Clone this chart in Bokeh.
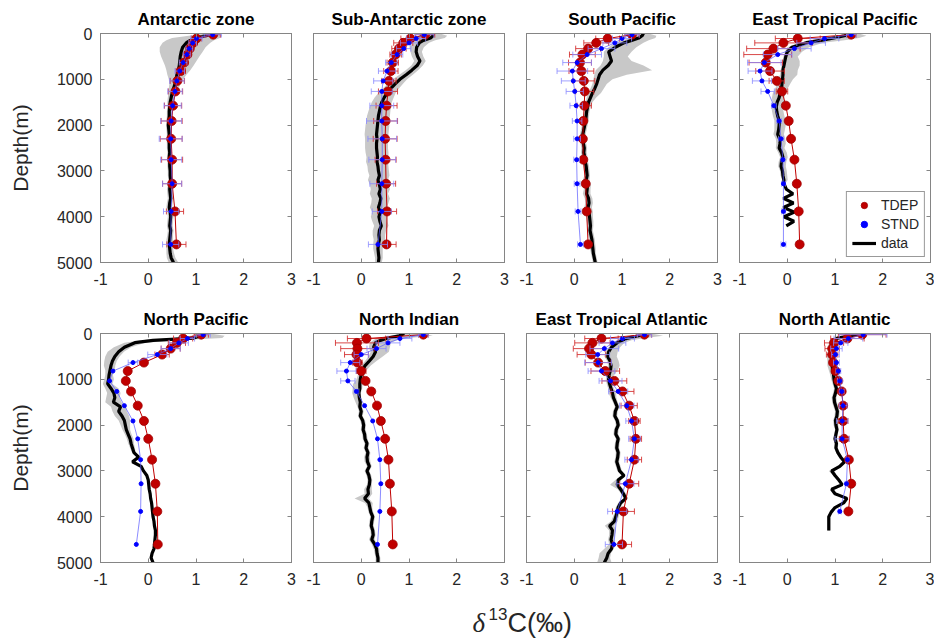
import math
from bokeh.plotting import figure
from bokeh.models import (Range1d, FixedTicker, LinearAxis, CustomJSTickFormatter,
                          Legend, LegendItem)
from bokeh.layouts import column, row
from bokeh.embed import file_html
from bokeh.resources import INLINE
from bokeh.core.properties import value

TITLES = ["Antarctic zone", "Sub-Antarctic zone", "South Pacific", "East Tropical Pacific",
          "North Pacific", "North Indian", "East Tropical Atlantic", "North Atlantic"]
X_TICKS = [-1, 0, 1, 2, 3]
Y_TICKS = [0, 1000, 2000, 3000, 4000, 5000]
SERIES = ["TDEP", "STND", "data"]

DEPTH_MODEL = [25, 110, 205, 330, 460, 635, 820, 1035, 1265, 1575, 1910, 2300, 2755, 3280, 3885, 4605]
DEPTH_DATA = [0, 50, 100, 150, 200,
              300, 400, 500, 600, 700, 800, 900, 1000,
              1100, 1200, 1300, 1400, 1500, 1600, 1700, 1800, 1900, 2000,
              2100, 2200, 2300, 2400, 2500, 2600, 2700, 2800, 2900, 3000,
              3100, 3200, 3300, 3400, 3500, 3600, 3700, 3800, 3900, 4000,
              4100, 4200, 4300, 4400, 4500, 4600, 4700, 4800, 4900, 5000]

# ---- Antarctic zone
ANT_TDEP = [1.36, 1.01, 0.94, 0.87, 0.82, 0.75, 0.68, 0.61, 0.57, 0.52, 0.49, 0.48, 0.50, 0.50, 0.56, 0.59]
ANT_TDEP_ERR = [0.15, 0.10, 0.08, 0.07, 0.07, 0.08, 0.10, 0.15, 0.15, 0.18, 0.22, 0.23, 0.22, 0.20, 0.18, 0.20]
ANT_STND = [1.35, 1.01, 0.93, 0.86, 0.81, 0.73, 0.66, 0.60, 0.56, 0.51, 0.48, 0.47, 0.48, 0.50, 0.48, 0.47]
ANT_STND_ERR = [0.18, 0.12, 0.08, 0.07, 0.07, 0.08, 0.10, 0.15, 0.15, 0.18, 0.22, 0.24, 0.22, 0.20, 0.16, 0.17]
ANT_DATA = [1.36, 1.20, 1.00, 0.88, 0.80,
            0.72, 0.69, 0.67, 0.66, 0.65, 0.63, 0.60, 0.58,
            0.56, 0.53, 0.50, 0.48, 0.46, 0.45, 0.44, 0.44, 0.43, 0.42,
            0.43, 0.44, 0.43, 0.44, 0.44, 0.45, 0.44, 0.45, 0.45, 0.46,
            0.46, 0.47, 0.46, 0.45, 0.46, 0.47, 0.45, 0.44, 0.46, 0.47,
            0.46, 0.45, 0.47, 0.46, 0.45, 0.44, 0.45, 0.46, 0.48, 0.53]
ANT_STD = [0.15, 0.35, 0.50, 0.50, 0.50,
           0.48, 0.45, 0.40, 0.35, 0.30, 0.25, 0.20, 0.15,
           0.12, 0.10, 0.08, 0.07, 0.06, 0.05, 0.05, 0.05, 0.05, 0.05,
           0.05, 0.05, 0.05, 0.05, 0.05, 0.05, 0.05, 0.05, 0.05, 0.05,
           0.05, 0.05, 0.05, 0.06, 0.06, 0.06, 0.06, 0.06, 0.06, 0.06,
           0.06, 0.06, 0.06, 0.06, 0.07, 0.07, 0.07, 0.08, 0.09, 0.10]
ANT_SKEW = None

# ---- Sub-Antarctic zone
SUB_TDEP = [1.34, 1.03, 0.88, 0.79, 0.72, 0.66, 0.62, 0.58, 0.56, 0.53, 0.51, 0.50, 0.51, 0.52, 0.54, 0.53]
SUB_TDEP_ERR = [0.20, 0.20, 0.20, 0.15, 0.12, 0.12, 0.15, 0.15, 0.20, 0.22, 0.25, 0.25, 0.22, 0.20, 0.20, 0.20]
SUB_STND = [1.32, 1.15, 1.00, 0.89, 0.75, 0.63, 0.54, 0.46, 0.43, 0.43, 0.43, 0.44, 0.44, 0.43, 0.43, 0.35]
SUB_STND_ERR = [0.20, 0.20, 0.18, 0.15, 0.12, 0.12, 0.18, 0.20, 0.22, 0.25, 0.32, 0.30, 0.28, 0.25, 0.20, 0.20]
SUB_DATA = [1.50, 1.50, 1.45, 1.30, 1.22,
            1.16, 1.15, 1.18, 1.23, 1.17, 1.06, 0.94, 0.81,
            0.71, 0.62, 0.54, 0.48, 0.43, 0.40, 0.38, 0.36, 0.35, 0.34,
            0.33, 0.32, 0.33, 0.32, 0.32, 0.33, 0.34, 0.33, 0.35, 0.36,
            0.38, 0.35, 0.38, 0.40, 0.37, 0.41, 0.39, 0.36, 0.40, 0.37,
            0.39, 0.42, 0.38, 0.37, 0.38, 0.36, 0.35, 0.36, 0.37, 0.36]
SUB_STD = [0.15, 0.30, 0.30, 0.25, 0.20,
           0.15, 0.12, 0.12, 0.12, 0.12, 0.13, 0.14, 0.15,
           0.16, 0.17, 0.18, 0.20, 0.21, 0.22, 0.23, 0.24, 0.24, 0.25,
           0.25, 0.25, 0.25, 0.24, 0.24, 0.24, 0.23, 0.23, 0.22, 0.22,
           0.21, 0.21, 0.20, 0.20, 0.19, 0.19, 0.18, 0.18, 0.17, 0.17,
           0.16, 0.15, 0.14, 0.13, 0.12, 0.11, 0.10, 0.09, 0.08, 0.07]
SUB_SKEW = None

# ---- South Pacific
SP_TDEP = [1.21, 0.70, 0.46, 0.29, 0.17, 0.12, 0.15, 0.20, 0.22, 0.21, 0.19, 0.18, 0.19, 0.24, 0.26, 0.29]
SP_TDEP_ERR = [0.15, 0.25, 0.26, 0.26, 0.27, 0.24, 0.26, 0.23, 0.19, 0.15, 0.05, 0.04, 0.04, 0.04, 0.04, 0.04]
SP_STND = [1.21, 1.00, 0.85, 0.57, 0.27, 0.06, -0.04, -0.02, 0.01, 0.04, 0.06, 0.06, 0.05, 0.06, 0.08, 0.13]
SP_STND_ERR = [0.15, 0.20, 0.25, 0.28, 0.30, 0.30, 0.32, 0.25, 0.18, 0.13, 0.10, 0.07, 0.06, 0.06, 0.06, 0.06]
SP_DATA = [1.45, 1.42, 1.35, 1.20, 1.05,
           0.86, 0.72, 0.75, 0.78, 0.71, 0.60, 0.53, 0.50,
           0.47, 0.43, 0.38, 0.34, 0.30, 0.28, 0.26, 0.25, 0.24, 0.22,
           0.20, 0.18, 0.20, 0.19, 0.21, 0.20, 0.22, 0.23, 0.25, 0.26,
           0.27, 0.25, 0.28, 0.27, 0.26, 0.30, 0.31, 0.29, 0.31, 0.32,
           0.33, 0.34, 0.33, 0.35, 0.37, 0.38, 0.39, 0.40, 0.42, 0.44]
SP_STD = [0.09, 0.21, 0.25, 0.28, 0.30,
          0.29, 0.29, 0.25, 0.30, 0.45, 0.59, 0.34, 0.20,
          0.15, 0.14, 0.13, 0.10, 0.07, 0.07, 0.06, 0.06, 0.06, 0.06,
          0.06, 0.06, 0.06, 0.06, 0.06, 0.06, 0.06, 0.06, 0.06, 0.06,
          0.06, 0.07, 0.07, 0.07, 0.08, 0.08, 0.08, 0.08, 0.08, 0.07,
          0.07, 0.06, 0.06, 0.06, 0.06, 0.06, 0.06, 0.05, 0.05, 0.05]
SP_SKEW = [0.02, 0.09, 0.10, 0.08, 0.10,
           0.15, 0.19, 0.12, 0.12, 0.29, 0.44, 0.23, 0.10,
           0.06, 0.05, 0.05, 0.02, 0.01, 0.00, 0.00, 0.00, 0.00, 0.00,
           0.00, 0.00, 0.00, 0.00, 0.00, 0.00, 0.00, 0.00, 0.00, 0.00,
           0.00, 0.00, 0.00, 0.00, 0.00, 0.00, 0.00, 0.00, 0.00, 0.00,
           0.00, 0.00, 0.00, 0.00, 0.00, 0.00, 0.00, 0.00, 0.00, 0.00]

# ---- East Tropical Pacific
ETP_TDEP = [1.34, 0.22, -0.08, -0.29, -0.41, -0.45, -0.36, -0.22, -0.11, -0.03, 0.03, 0.08, 0.15, 0.20, 0.24, 0.26]
ETP_TDEP_ERR = [0.10, 0.47, 0.60, 0.56, 0.50, 0.35, 0.30, 0.16, 0.12, 0.05, 0, 0, 0, 0, 0, 0]
ETP_STND = [1.34, 0.78, 0.50, 0.15, -0.20, -0.48, -0.57, -0.53, -0.41, -0.28, -0.17, -0.13, -0.09, -0.08, -0.08, -0.08]
ETP_STND_ERR = [0.10, 0.30, 0.30, 0.35, 0.30, 0.35, 0.25, 0.20, 0.14, 0.05, 0.05, 0.05, 0.04, 0.04, 0.04, 0.05]
ETP_DATA = [1.36, 1.20, 0.95, 0.70, 0.40,
            0.10, 0.00, -0.03, -0.05, -0.07, -0.09, -0.09, -0.10,
            -0.11, -0.12, -0.15, -0.17, -0.21, -0.23, -0.22, -0.20, -0.17, -0.17,
            -0.18, -0.20, -0.16, -0.15, -0.17, -0.12, -0.09, -0.12, -0.13, -0.10,
            -0.09, -0.07, -0.06, -0.02, 0.12, -0.08, 0.13, -0.08, 0.15, -0.07,
            0.14, -0.02, None, None, None, None, None, None, None, None]
ETP_STD = [0.10, 0.28, 0.35, 0.35, 0.25,
           0.23, 0.18, 0.15, 0.18, 0.19, 0.18, 0.18, 0.16,
           0.14, 0.13, 0.13, 0.13, 0.12, 0.12, 0.12, 0.12, 0.12, 0.12,
           0.11, 0.11, 0.10, 0.10, 0.09, 0.09, 0.08, 0.08, 0.08, 0.07,
           0.07, 0.06, 0.00, 0.00, 0.00, 0.00, 0.00, 0.00, 0.00, 0.00,
           0.00, 0.00, None, None, None, None, None, None, None, None]
ETP_SKEW = [0.04, 0.18, 0.20, 0.15, 0.10,
            0.13, 0.13, 0.10, 0.13, 0.14, 0.13, 0.12, 0.06,
            0.03, 0.00, -0.02, -0.02, 0.02, 0.02, 0.02, 0.02, 0.02, 0.02,
            0.02, 0.02, 0.02, 0.02, 0.02, 0.02, 0.02, 0.02, 0.02, 0.02,
            0.02, 0.02, 0.00, 0.00, 0.00, 0.00, 0.00, 0.00, 0.00, 0.00,
            0.00, 0.00, 0.00, 0.00, 0.00, 0.00, 0.00, 0.00, 0.00, 0.00]

# ---- North Pacific
NP_TDEP = [1.11, 0.73, 0.60, 0.47, 0.29, -0.09, -0.43, -0.47, -0.36, -0.22, -0.09, 0.00, 0.08, 0.15, 0.19, 0.20]
NP_TDEP_ERR = [0.15, 0.20, 0.18, 0.20, 0.15, 0.05, 0, 0, 0, 0, 0, 0, 0, 0, 0, 0]
NP_STND = [1.15, 0.82, 0.64, 0.47, 0.19, -0.32, -0.74, -0.81, -0.66, -0.50, -0.32, -0.22, -0.16, -0.15, -0.16, -0.25]
NP_STND_ERR = [0.15, 0.15, 0.20, 0.20, 0.20, 0.10, 0, 0, 0, 0, 0, 0, 0, 0, 0, 0]
NP_DATA = [1.15, 1.10, 0.95, 0.10, -0.28,
           -0.50, -0.62, -0.70, -0.75, -0.78, -0.80, -0.82, -0.83,
           -0.85, -0.78, -0.72, -0.70, -0.73, -0.58, -0.62, -0.55, -0.50, -0.48,
           -0.46, -0.42, -0.38, -0.36, -0.33, -0.30, -0.20, -0.33, -0.15, -0.10,
           -0.03, 0.00, 0.01, 0.02, 0.04, 0.05, 0.07, 0.08, 0.09, 0.10,
           0.12, 0.13, 0.15, 0.15, 0.14, 0.13, 0.12, 0.08, 0.06, 0.10]
NP_STD = [0.10, 0.35, 0.50, 0.40, 0.22,
          0.18, 0.17, 0.15, 0.13, 0.12, 0.10, 0.08, 0.10,
          0.10, 0.14, 0.14, 0.14, 0.17, 0.16, 0.15, 0.15, 0.12, 0.10,
          0.08, 0.07, 0.07, 0.06, 0.05, 0.04, 0.03, 0.03, 0.02, 0.02,
          0.02, 0.02, 0.02, 0.02, 0.02, 0.02, 0.02, 0.02, 0.02, 0.02,
          0.02, 0.02, 0.02, 0.02, 0.02, 0.02, 0.02, 0.02, 0.02, 0.02]
NP_SKEW = [0.05, 0.15, 0.10, 0.15, 0.00,
           -0.04, -0.06, -0.05, -0.04, -0.03, 0.00, 0.00, 0.01,
           0.00, 0.02, 0.00, -0.04, 0.00, -0.04, 0.02, 0.00, 0.00, 0.00,
           0.00, 0.00, 0.00, 0.00, 0.00, 0.00, 0.00, 0.00, 0.00, 0.00,
           0.00, 0.00, 0.00, 0.00, 0.00, 0.00, 0.00, 0.00, 0.00, 0.00,
           0.00, 0.00, 0.00, 0.00, 0.00, 0.00, 0.00, 0.00, 0.00, 0.00]

# ---- North Indian
NI_TDEP = [1.30, 0.11, -0.09, -0.08, -0.10, -0.08, 0.00, 0.09, 0.21, 0.33, 0.41, 0.50, 0.57, 0.60, 0.64, 0.66]
NI_TDEP_ERR = [0.10, 0.40, 0.45, 0.35, 0.25, 0.10, 0.10, 0.03, 0, 0, 0, 0, 0, 0, 0, 0]
NI_STND = [1.30, 0.81, 0.56, 0.32, 0.00, -0.23, -0.31, -0.28, -0.10, 0.07, 0.24, 0.34, 0.39, 0.41, 0.39, 0.34]
NI_STND_ERR = [0.10, 0.25, 0.25, 0.20, 0.15, 0.20, 0.20, 0.15, 0.05, 0, 0, 0, 0, 0, 0, 0]
NI_DATA = [0.90, 0.80, 0.55, 0.40, 0.30,
           0.26, 0.30, 0.25, 0.17, 0.08, 0.03, 0.00, -0.02,
           -0.03, -0.03, -0.05, -0.04, -0.02, -0.03, 0.00, -0.02, 0.03, 0.05,
           0.04, 0.07, 0.08, 0.12, 0.10, 0.14, 0.12, 0.13, 0.17, 0.12,
           0.16, 0.18, 0.17, 0.14, 0.15, 0.07, 0.16, 0.18, 0.20, 0.24,
           0.22, 0.21, 0.24, 0.25, 0.22, 0.28, 0.32, 0.33, 0.35, 0.35]
NI_STD = [0.23, 0.45, 0.33, 0.25, 0.22,
          0.22, 0.19, 0.15, 0.12, 0.10, 0.08, 0.07, 0.08,
          0.10, 0.10, 0.09, 0.08, 0.07, 0.05, 0.05, 0.05, 0.05, 0.05,
          0.05, 0.05, 0.05, 0.05, 0.05, 0.05, 0.06, 0.06, 0.05, 0.05,
          0.05, 0.05, 0.05, 0.08, 0.08, 0.15, 0.08, 0.05, 0.05, 0.05,
          0.05, 0.05, 0.05, 0.05, 0.06, 0.06, 0.06, 0.05, 0.05, 0.05]
NI_SKEW = [0.18, 0.25, 0.12, 0.10, 0.10,
           0.12, 0.09, 0.05, 0.03, 0.02, 0.00, 0.00, 0.00,
           -0.04, -0.05, -0.05, -0.04, -0.03, 0.00, 0.00, 0.00, 0.00, 0.00,
           0.00, 0.00, 0.00, 0.00, 0.00, 0.00, 0.00, 0.00, 0.00, 0.00,
           0.00, 0.00, 0.00, 0.00, 0.00, -0.06, 0.00, 0.00, 0.00, 0.00,
           0.00, 0.00, 0.00, 0.00, 0.00, 0.00, 0.00, 0.00, 0.00, 0.00]

# ---- East Tropical Atlantic
ETA_TDEP = [1.47, 0.57, 0.38, 0.31, 0.36, 0.50, 0.65, 0.84, 1.01, 1.15, 1.26, 1.29, 1.26, 1.15, 1.03, 1.00]
ETA_TDEP_ERR = [0.15, 0.35, 0.37, 0.33, 0.30, 0.27, 0.30, 0.26, 0.24, 0.17, 0.12, 0.12, 0.15, 0.20, 0.23, 0.20]
ETA_STND = [1.47, 1.01, 0.80, 0.63, 0.49, 0.50, 0.57, 0.76, 0.92, 1.10, 1.20, 1.26, 1.20, 1.07, 0.90, 0.83]
ETA_STND_ERR = [0.15, 0.25, 0.28, 0.30, 0.25, 0.28, 0.28, 0.24, 0.20, 0.15, 0.12, 0.12, 0.14, 0.18, 0.20, 0.18]
ETA_DATA = [1.50, 1.35, 1.12, 1.00, 0.90,
            0.78, 0.72, 0.70, 0.75, 0.77, 0.76, 0.73, 0.72,
            0.74, 0.77, 0.80, 0.82, 0.86, 0.90, 0.86, 0.85, 0.90, 0.92,
            0.88, 0.87, 0.92, 0.90, 0.89, 0.92, 0.91, 0.89, 0.92, 0.95,
            1.04, 0.92, 0.90, 0.97, 1.03, 1.08, 0.97, 0.92, 0.90, 0.87,
            0.84, 0.74, 0.80, 0.79, 0.77, 0.80, 0.78, 0.71, 0.68, 0.63]
ETA_STD = [0.08, 0.33, 0.25, 0.15, 0.12,
           0.12, 0.13, 0.13, 0.12, 0.12, 0.10, 0.08, 0.06,
           0.06, 0.06, 0.08, 0.06, 0.05, 0.05, 0.05, 0.05, 0.05, 0.05,
           0.05, 0.05, 0.05, 0.05, 0.05, 0.05, 0.05, 0.05, 0.05, 0.05,
           0.05, 0.06, 0.10, 0.06, 0.05, 0.05, 0.05, 0.05, 0.05, 0.06,
           0.07, 0.10, 0.07, 0.06, 0.06, 0.07, 0.10, 0.12, 0.12, 0.15]
ETA_SKEW = [0.03, 0.18, 0.13, 0.05, 0.03,
            0.06, 0.06, 0.06, 0.06, 0.06, 0.05, 0.03, 0.00,
            0.00, 0.00, 0.00, 0.00, 0.00, 0.00, 0.00, 0.00, 0.00, 0.00,
            0.00, 0.00, 0.00, 0.00, 0.00, 0.00, 0.00, 0.00, 0.00, 0.00,
            0.00, 0.00, -0.05, 0.00, 0.00, 0.00, 0.00, 0.00, 0.00, 0.00,
            0.00, 0.00, 0.00, 0.00, 0.00, 0.00, -0.05, -0.06, -0.05, 0.00]

# ---- North Atlantic
NA_TDEP = [1.57, 1.26, 0.98, 0.94, 0.94, 0.96, 1.01, 1.07, 1.14, 1.17, 1.17, 1.19, 1.29, 1.34, 1.28, None]
NA_TDEP_ERR = [0.50, 0.35, 0.20, 0.15, 0.12, 0.08, 0.05, 0.05, 0.05, 0.08, 0.10, 0.10, 0.03, 0.03, 0.03, 0]
NA_STND = [1.59, 1.28, 1.12, 1.03, 1.01, 1.03, 1.07, 1.10, 1.14, 1.17, 1.15, 1.15, 1.26, 1.24, 1.10, None]
NA_STND_ERR = [0.50, 0.30, 0.15, 0.12, 0.08, 0.06, 0.05, 0.05, 0.05, 0.08, 0.12, 0.15, 0.03, 0.03, 0.03, 0]
NA_DATA = [1.60, 1.35, 1.05, 0.97, 0.95,
           0.94, 0.94, 0.93, 0.94, 0.94, 0.95, 0.97, 0.98,
           1.00, 1.03, 1.01, 0.98, 0.99, 1.02, 1.05, 1.04, 1.01, 1.02,
           1.04, 1.02, 1.00, 1.03, 1.02, 1.06, 1.12, 1.20, 1.10, 0.93,
           1.00, 1.08, 1.15, 0.93, 1.00, 1.25, 1.18, 1.00, 0.92, 0.87,
           0.87, 0.87, 0.87, None, None, None, None, None, None, None]
NA_STD = [0.10, 0.20, 0.10, 0.08, 0.08,
          0.08, 0.09, 0.10, 0.10, 0.10, 0.08, 0.07, 0.06,
          0.05, 0.05, 0.05, 0.05, 0.05, 0.05, 0.05, 0.05, 0.05, 0.05,
          0.04, 0.04, 0.04, 0.04, 0.04, 0.04, 0.04, 0.04, 0.05, 0.06,
          0.04, 0.03, 0.03, 0.03, 0.03, 0.03, 0.03, 0.03, 0.03, 0.03,
          0.03, 0.03, 0.03, None, None, None, None, None, None, None]
NA_SKEW = None

PANELS = [
    (ANT_TDEP, ANT_TDEP_ERR, ANT_STND, ANT_STND_ERR, ANT_DATA, ANT_STD, ANT_SKEW),
    (SUB_TDEP, SUB_TDEP_ERR, SUB_STND, SUB_STND_ERR, SUB_DATA, SUB_STD, SUB_SKEW),
    (SP_TDEP, SP_TDEP_ERR, SP_STND, SP_STND_ERR, SP_DATA, SP_STD, SP_SKEW),
    (ETP_TDEP, ETP_TDEP_ERR, ETP_STND, ETP_STND_ERR, ETP_DATA, ETP_STD, ETP_SKEW),
    (NP_TDEP, NP_TDEP_ERR, NP_STND, NP_STND_ERR, NP_DATA, NP_STD, NP_SKEW),
    (NI_TDEP, NI_TDEP_ERR, NI_STND, NI_STND_ERR, NI_DATA, NI_STD, NI_SKEW),
    (ETA_TDEP, ETA_TDEP_ERR, ETA_STND, ETA_STND_ERR, ETA_DATA, ETA_STD, ETA_SKEW),
    (NA_TDEP, NA_TDEP_ERR, NA_STND, NA_STND_ERR, NA_DATA, NA_STD, NA_SKEW),
]

FONT = "Liberation Sans"
AX = "#858585"
TXT = "#262626"
RED = "#c00000"
RED_ERR = "#d22a2a"
BLUE = "#0000ff"
BLUE_LINE = "#5a5aff"
BLUE_ERR = "#8a8aff"
BAND = "#c8c8c8"

blank = CustomJSTickFormatter(code="return ''")
plain = CustomJSTickFormatter(code="return tick.toString()")

FRAME_W = 191
FRAME_H = 229
TOP = 33


def valid(xs, ys):
    return [(x, y) for x, y in zip(xs, ys) if x is not None]


def errbars(p, vals, errs, depths, color, alpha):
    lo, hi, yy = [], [], []
    for v, e, d in zip(vals, errs, depths):
        if v is None or not e:
            continue
        lo.append(v - e)
        hi.append(v + e)
        yy.append(d)
    p.segment(x0=lo, y0=yy, x1=hi, y1=yy, line_color=color, line_alpha=alpha, line_width=1)
    p.scatter(x=lo + hi, y=yy + yy, marker="dash", size=6, angle=math.pi / 2,
              line_color=color, line_alpha=alpha, line_width=1)


def style_axis(ax, ticks):
    ax.ticker = FixedTicker(ticks=ticks)
    ax.major_tick_in = 4
    ax.major_tick_out = 0
    ax.minor_tick_line_color = None
    ax.axis_line_color = AX
    ax.major_tick_line_color = AX
    ax.major_label_text_font = FONT
    ax.major_label_text_font_size = "16px"
    ax.major_label_text_color = TXT


def make_panel(i):
    tdep, tdep_err, stnd, stnd_err, data, std, skew = PANELS[i]
    if skew is None:
        skew = [0.0] * len(data)
    col, rw = i % 4, i // 4
    left = 100 if col == 0 else 11
    right = 4 if col == 3 else 11
    bottom = 38 if rw == 0 else 30
    p = figure(width=left + FRAME_W + right, height=TOP + FRAME_H + bottom,
               x_range=Range1d(-1, 3), y_range=Range1d(5000, 0),
               output_backend="svg", toolbar_location=None,
               min_border_left=left, min_border_right=right,
               min_border_top=TOP, min_border_bottom=bottom, title=TITLES[i])
    p.title.text_font = FONT
    p.title.text_font_size = "17px"
    p.title.text_font_style = "bold"
    p.title.text_color = "black"
    p.title.align = "center"
    p.title.standoff = 10
    p.grid.visible = False
    p.outline_line_color = AX
    p.background_fill_color = "white"
    p.border_fill_color = "white"

    style_axis(p.xaxis[0], X_TICKS)
    p.xaxis[0].formatter = plain
    p.xaxis[0].major_label_standoff = 10
    style_axis(p.yaxis[0], Y_TICKS)
    if col == 0:
        p.yaxis[0].formatter = plain
        p.yaxis[0].major_label_standoff = 8
        p.yaxis[0].axis_label = "Depth(m)"
        p.yaxis[0].axis_label_text_font = FONT
        p.yaxis[0].axis_label_text_font_size = "21px"
        p.yaxis[0].axis_label_text_font_style = "normal"
        p.yaxis[0].axis_label_text_color = TXT
        p.yaxis[0].axis_label_standoff = 22
    else:
        p.yaxis[0].formatter = blank
        p.yaxis[0].major_label_standoff = 0

    ra = LinearAxis(formatter=blank, major_label_standoff=0)
    style_axis(ra, Y_TICKS)
    p.add_layout(ra, "right")
    ta = LinearAxis(formatter=blank, major_label_standoff=0)
    style_axis(ta, X_TICKS)
    p.add_layout(ta, "above")

    # observed spread band and mean profile
    dv = [(x + k, s, d) for x, s, k, d in zip(data, std, skew, DEPTH_DATA)
          if x is not None and s is not None]
    p.harea(x1=[c - s for c, s, d in dv], x2=[c + s for c, s, d in dv], y=[d for c, s, d in dv],
            fill_color=BAND, fill_alpha=1.0)
    dl = valid(data, DEPTH_DATA)
    data_r = p.line(x=[a for a, b in dl], y=[b for a, b in dl], line_color="black", line_width=3.2)

    # TDEP
    errbars(p, tdep, tdep_err, DEPTH_MODEL, RED_ERR, 0.85)
    tv = valid(tdep, DEPTH_MODEL)
    p.line(x=[a for a, b in tv], y=[b for a, b in tv], line_color=RED, line_width=1)
    tdep_r = p.scatter(x=[a for a, b in tv], y=[b for a, b in tv], size=9,
                       fill_color=RED, line_color="#a00000", line_width=0.8)

    # STND
    errbars(p, stnd, stnd_err, DEPTH_MODEL, BLUE_ERR, 0.8)
    sv = valid(stnd, DEPTH_MODEL)
    p.line(x=[a for a, b in sv], y=[b for a, b in sv], line_color=BLUE_LINE, line_alpha=0.7, line_width=1)
    stnd_r = p.scatter(x=[a for a, b in sv], y=[b for a, b in sv], size=4,
                       fill_color=BLUE, line_color=BLUE)

    if i == 3:
        leg = Legend(items=[LegendItem(label=SERIES[0], renderers=[tdep_r]),
                            LegendItem(label=SERIES[1], renderers=[stnd_r]),
                            LegendItem(label=SERIES[2], renderers=[data_r])],
                     location="bottom_right")
        leg.label_text_font = FONT
        leg.label_text_font_size = "14px"
        leg.label_text_color = TXT
        leg.glyph_width = 24
        leg.glyph_height = 16
        leg.label_height = 16
        leg.label_standoff = 5
        leg.padding = 5
        leg.spacing = 3
        leg.margin = 5
        leg.border_line_color = "#333333"
        leg.border_line_width = 1
        leg.background_fill_color = "white"
        leg.background_fill_alpha = 1.0
        p.add_layout(leg)
    return p


panels = [make_panel(i) for i in range(8)]

lab = figure(width=934, height=48, x_range=Range1d(0, 934), y_range=Range1d(0, 48),
             output_backend="svg", toolbar_location=None,
             min_border=0, min_border_left=0, min_border_right=0,
             min_border_top=0, min_border_bottom=0)
lab.axis.visible = False
lab.grid.visible = False
lab.outline_line_color = None
lab.text(x=[472], y=[18], text=["δ"], text_font=value("Liberation Serif"),
         text_font_style=value("italic"), text_font_size=value("27px"),
         text_color=TXT, text_align=value("left"), text_baseline=value("alphabetic"))
lab.text(x=[488], y=[27], text=["13"], text_font=value(FONT),
         text_font_size=value("17px"), text_color=TXT,
         text_align=value("left"), text_baseline=value("alphabetic"))
lab.text(x=[507], y=[18], text=["C(‰)"], text_font=value(FONT),
         text_font_size=value("27px"), text_color=TXT,
         text_align=value("left"), text_baseline=value("alphabetic"))

layout = column(row(*panels[:4]), row(*panels[4:]), lab)
open("out.html", "w").write(file_html(layout, INLINE))
